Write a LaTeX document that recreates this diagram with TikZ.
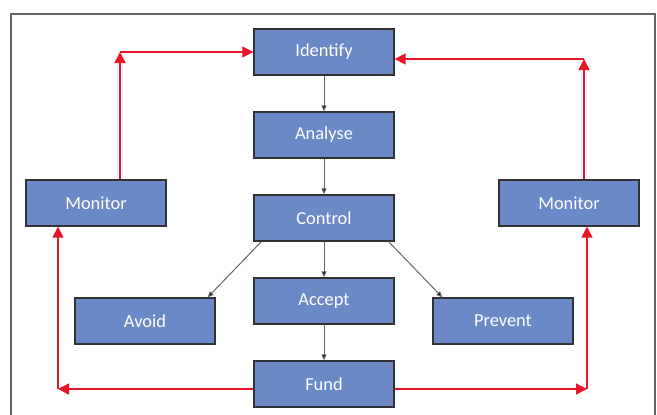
\documentclass[tikz,border=0pt]{standalone}
\usepackage{fontspec}
\setmainfont{Carlito}
\usetikzlibrary{arrows.meta, positioning, calc}

\definecolor{boxblue}{RGB}{106,137,198}
\definecolor{boxline}{RGB}{50,50,50}
\definecolor{loopred}{RGB}{232,20,40}

\begin{document}
\begin{tikzpicture}[x=1pt, y=-1pt, node distance=35.7pt,
  stage/.style={draw=boxline, line width=1.3pt, fill=boxblue,
    minimum width=140pt, minimum height=46pt, inner sep=0pt,
    text=white, font=\fontsize{18.4}{22}\selectfont},
  flow/.style={draw=black!60, line width=1pt,
    -{Triangle[length=6pt,width=5pt,fill=black]}},
  loop/.style={draw=loopred, line width=1.5pt,
    -{Triangle[length=11pt,width=11pt]}}]

% page and frame
\useasboundingbox (0,0) rectangle (657,415);
\draw[gray!80!black, line width=1.2pt] (11,420) -- (11,14) -- (655,14) -- (655,420);

% -----------------------------------------------------
%  central column
% -----------------------------------------------------
\node[stage] (identify) at (324,52) {Identify};
\node[stage, below=of identify] (analyse) {Analyse};
\node[stage, below=of analyse] (control) {Control};
\node[stage, below=of control] (accept) {Accept};
\node[stage, below=of accept] (fund) {Fund};

% side boxes
\node[stage] (monitorL) at (96,203) {Monitor};
\node[stage] (monitorR) at (569,203) {Monitor};
\node[stage] (avoid) at (145,321) {Avoid};
\node[stage] (prevent) at (503,321) {Prevent};

\draw[flow] (identify) -- (analyse);
\draw[flow] (analyse) -- (control);
\draw[flow] (control) -- (accept);
\draw[flow] (accept) -- (fund);
\draw[flow] ($(control.south west)+(8,0)$) -- ($(avoid.north east)+(-8,0)$);
\draw[flow] ($(control.south east)+(-6,0)$) -- ($(prevent.north west)+(10,0)$);

% -----------------------------------------------------
%  feedback loops
% -----------------------------------------------------
\coordinate (cornerLB) at (58,389);
\coordinate (cornerLT) at (120,52);
\coordinate (cornerRB) at (587,389);
\coordinate (cornerRT) at (584,59);

\draw[loop] (fund.west |- cornerLB) -- (cornerLB);
\draw[loop] (cornerLB) -- (cornerLB |- monitorL.south);
\draw[loop] (cornerLT |- monitorL.north) -- (cornerLT);
\draw[loop] (cornerLT) -- (identify.west);

\draw[loop] (fund.east |- cornerRB) -- (cornerRB);
\draw[loop] (cornerRB) -- (cornerRB |- monitorR.south);
\draw[loop] (cornerRT |- monitorR.north) -- (cornerRT);
\draw[loop] (cornerRT) -- (identify.east |- cornerRT);

\end{tikzpicture}
\end{document}
